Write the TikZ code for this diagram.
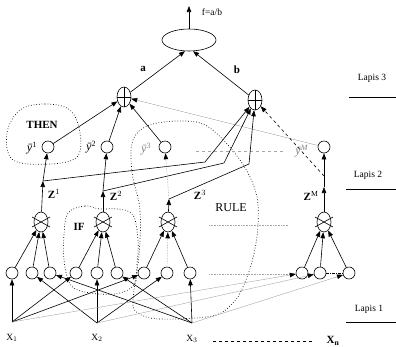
\documentclass[tikz,border=0pt]{standalone}
\usepackage{fontspec}
\setmainfont{Liberation Serif}
\usetikzlibrary{arrows.meta,shapes.geometric,calc}
\begin{document}
\begin{tikzpicture}[x=1pt,y=-1pt,
  every node/.style={font=\fontsize{9.5}{11}\selectfont},
  arr/.style={-{Triangle[length=6pt,width=4.5pt]}},
  arrb/.style={arrows={-{Triangle[length=6pt,width=4.5pt,color=black]}}},
  mf/.style={draw,circle,minimum size=12pt,inner sep=0pt},
  prod/.style={draw,ellipse,minimum width=14pt,minimum height=20pt,inner sep=0pt},
  sumn/.style={draw,ellipse,minimum width=14pt,minimum height=20pt,inner sep=0pt,
    path picture={\draw (path picture bounding box.north)--(path picture bounding box.south)
      (path picture bounding box.west)--(path picture bounding box.east);}},
  thinline/.style={draw=gray!70,line width=0.4pt},
  graydot/.style={draw=gray!70,densely dotted,line width=0.6pt},
  region/.style={dotted,line width=0.7pt},
  big/.style={font=\fontsize{11}{13}\selectfont},
  lab/.style={font=\fontsize{12}{13}\selectfont,inner sep=0.5pt},
  line width=0.6pt]
\useasboundingbox (0,0) rectangle (396,346);

% top ellipse and output
\node[draw,ellipse,minimum width=54pt,minimum height=22pt,inner sep=0pt] (E) at (189,40) {};
\coordinate (ftop) at (189,6);
\node (f) at (212,12) {f=a/b};

% sum nodes
\node[sumn] (A) at (124,97) {};
\node[sumn] (B) at (255,100) {};
\node[big] (la) at (143,69) {\textbf{a}};
\node[big] (lb) at (237,70) {\textbf{b}};

% layer 2 outputs
\node[mf] (y1) at (48,147) {};
\node[mf] (y2) at (107,147) {};
\node[mf] (y3) at (165,147) {};
\node[mf] (yM) at (324,147) {};
\node[lab] (ty1) at (32,148) {\textit{ȳ}\textsuperscript{1}};
\node[lab] (ty2) at (91,147) {\textit{ȳ}\textsuperscript{2}};
\node[lab,text=gray] (ty3) at (146,149) {\textit{ȳ}\textsuperscript{3}};
\node[lab,text=gray] (tyM) at (302,151) {\textit{ȳ}\textsuperscript{\textit{M}}};

% Z points
\coordinate (Z1) at (43,181);
\coordinate (Z2) at (103,191);
\coordinate (Z3) at (169,199);
\coordinate (ZM) at (324,187);
\coordinate (kM) at (324,176);
\coordinate (k1) at (205,162);
\coordinate (k2) at (224,163);
\coordinate (k3) at (249,164);
\node[big] (tz1) at (54,194) {\textbf{Z}$^{1}$};
\node[big] (tz2) at (116,196) {\textbf{Z}$^{2}$};
\node[big] (tz3) at (200,195) {\textbf{Z}$^{3}$};
\node[big] (tzM) at (311,196) {\textbf{Z}$^{\mathrm{M}}$};

% product nodes
\node[prod] (P1) at (41,222) {};
\node[prod] (P2) at (103,222) {};
\node[prod] (P3) at (168,222) {};
\node[prod] (PM) at (324,222) {};
\foreach \p in {P1,P2,P3,PM}
  \draw ($(\p)+(-9,-5)$) -- ($(\p)+(9,5)$) ($(\p)+(9,-5)$) -- ($(\p)+(-9,5)$);

% layer 1 circles
\foreach \n/\x in {1/12,2/32,3/50,4/76,5/97,6/117,7/144,8/167,9/190,10/302,11/320,12/349}
  \node[mf] (c\n) at (\x,273) {};

% inputs
\coordinate (x1) at (12,322);
\coordinate (x2) at (97,323);
\coordinate (x3) at (192,323);
\node (tx1) at (12,338) {X$_1$};
\node (tx2) at (97,338) {X$_2$};
\node (tx3) at (192,339) {X$_3$};
\node[big] (txn) at (333,341) {\textbf{X}$_{\mathbf{n}}$};
\coordinate (xd1) at (213,341);
\coordinate (xd2) at (313,341);
\draw[dashed] (xd1) -- (xd2);

% Lapis labels
\node (l3) at (372,78) {Lapis 3};
\node (l2) at (368,175) {Lapis 2};
\node (l1) at (369,309) {Lapis 1};
\draw (349,97) -- (396,97);
\draw (346,189) -- (396,189);
\draw (346,322) -- (396,322);

% dotted regions
\draw[region] plot[smooth cycle,tension=0.6] coordinates {(20,110) (45,104) (70,110) (80,133) (77,157) (50,164) (13,160) (7,133)};
\node[big] (tthen) at (42,125) {\textbf{THEN}};
\draw[region] plot[smooth cycle,tension=0.6] coordinates {(68,213) (85,206) (100,209) (118,209) (133,215) (138,240) (137,265) (134,285) (115,294) (85,292) (70,284) (64,260) (64,235)};
\node[big] (tif) at (79,227) {\textbf{IF}};
\draw[region] plot[smooth cycle,tension=0.6] coordinates {(133,300) (139,255) (140,210) (132,172) (133,140) (150,125) (185,121) (210,128) (240,160) (256,193) (258,225) (253,258) (243,287) (232,304) (212,316) (160,319) (138,313)};
\node[font=\fontsize{12}{14}\selectfont] (trule) at (231,208) {RULE};

% continuation lines
\draw[graydot,dashed] (196,151) -- (286,151);
\draw[graydot] (209,225) -- (288,225);
\draw[graydot] (209,274) -- (290,274);
\draw[densely dashdotted] (c11) -- (c12);

% top connections
\draw[arr] (E.north) -- (ftop);
\draw[arr] (A) -- (E.250);
\draw[arr] (B) -- (E.290);
\draw[arr] (y1) -- (A);
\draw[arr] (y2) -- (A);
\draw[arr] (y3) -- (A);
\draw[thinline,arrb] (yM) -- (A);

% Z connections
\draw[arr] (P1) -- (Z1);
\draw[arr] (Z1) -- (y1);
\draw[arr] (Z1) -- (k1) -- (B);
\draw[arr] (P2) -- (Z2);
\draw[arr] (Z2) -- (y2);
\draw[arr] (Z2) -- (k2) -- (B);
\draw[arr] (P3) -- (Z3);
\draw[graydot,arrb] (Z3) -- (y3);
\draw[arr] (Z3) -- (k3) -- (B);
\draw[arr] (PM) -- (ZM);
\draw[arr] (ZM) -- (yM);
\draw[dashed,arr] (kM) -- (B);

% layer 1 to products
\foreach \c in {1,2,3} \draw[arr] (c\c) -- (P1);
\foreach \c in {4,5,6} \draw[arr] (c\c) -- (P2);
\foreach \c in {7,9} \draw[arr] (c\c) -- (P3);
\draw[graydot,arrb] (c8) -- (P3);
\foreach \c in {10,11,12} \draw[arr] (c\c) -- (PM);

% inputs to layer 1
\foreach \c in {1,4,7} \draw[arr] (x1) -- (c\c);
\foreach \c in {2,5,8} \draw[arr] (x2) -- (c\c);
\foreach \c in {3,6,9} \draw[arr] (x3) -- (c\c);
\draw[thinline,arrb] (x1) -- (c10);
\draw[thinline,arrb] (x2) -- (c11);
\draw[thinline,arrb] (x3) -- (c12);
\end{tikzpicture}
\end{document}
